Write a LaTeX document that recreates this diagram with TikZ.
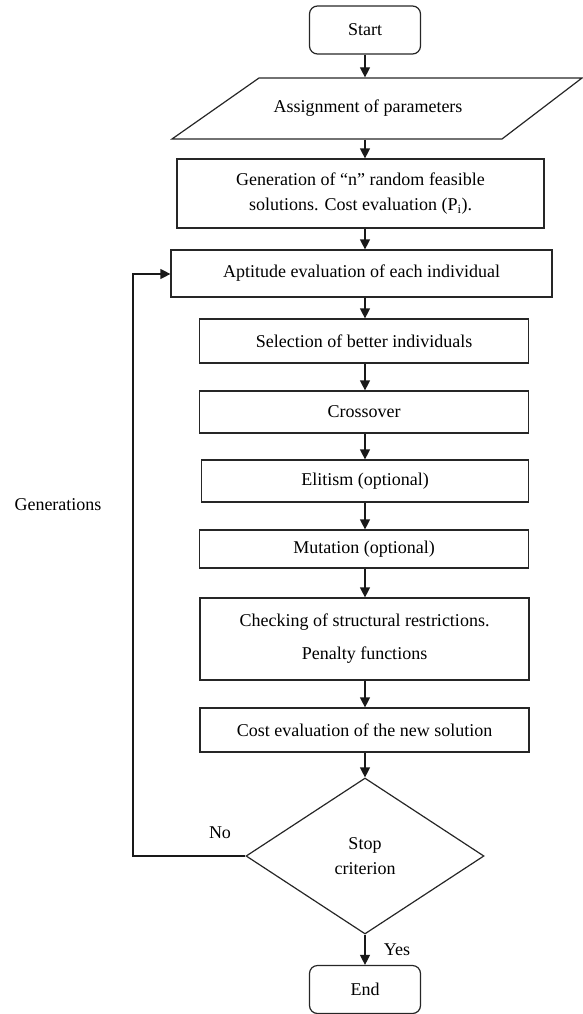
\documentclass[tikz,border=0pt]{standalone}
\usepackage{fontspec}
\setmainfont{Liberation Serif}
\usetikzlibrary{arrows.meta}
\usetikzlibrary{shapes.geometric}

\begin{document}
\begin{tikzpicture}[x=1pt, y=-1pt, font=\fontsize{18}{25}\selectfont,
      line width=1.2pt, inner sep=2pt, align=center,
      stepbox/.style={draw=black!85, rectangle},
      terminal/.style={draw=black!85, rectangle, rounded corners=8pt,
        minimum width=111pt, minimum height=48pt},
      flow/.style={draw=black!90, -{Triangle[length=10pt, width=10pt]}}]
    \useasboundingbox (0,0) rectangle (583,1014);
    % terminals
    \node[terminal] (start) at (365,30) {Start};
    \node[terminal] (finish) at (365,989.5) {End};
    % input
    \draw[draw=black!85] (259,78) -- (582,78) -- (502,139) -- (172,139) -- cycle;
    \node[minimum height=61pt] (assign) at (368,108.5) {Assignment of parameters};
    % process steps
    \node[stepbox, minimum width=367pt, minimum height=69pt] (gen) at (360.5,193.5)
      {Generation of “n” random feasible\\solutions. Cost evaluation (P\textsubscript{i}).};
    \node[stepbox, minimum width=381pt, minimum height=47pt] (apt) at (361.5,273.5)
      {Aptitude evaluation of each individual};
    \node[stepbox, minimum width=329pt, minimum height=44pt] (sel) at (364,341)
      {Selection of better individuals};
    \node[stepbox, minimum width=329pt, minimum height=42pt] (cross) at (364,412)
      {Crossover};
    \node[stepbox, minimum width=327pt, minimum height=42pt] (elit) at (365,481)
      {Elitism (optional)};
    \node[stepbox, minimum width=329pt, minimum height=38pt] (mut) at (364,549)
      {Mutation (optional)};
    \node[stepbox, minimum width=329pt, minimum height=82pt] (check) at (364.5,639)
      {Checking of structural restrictions.\\[8pt]Penalty functions};
    \node[stepbox, minimum width=329pt, minimum height=44pt] (cost) at (364.5,730)
      {Cost evaluation of the new solution};
    % decision
    \node[draw=black!85, diamond, minimum width=238pt, minimum height=156pt,
      inner sep=0pt] (stop) at (365,856) {Stop\\criterion};
    % connectors, all on the middle column
    \foreach \a/\b in {start/assign, assign/gen, gen/apt, apt/sel, sel/cross,
        cross/elit, elit/mut, mut/check, check/cost, cost/stop, stop/finish}{
      \draw[flow] (\a.south -| start) -- (\b.north -| start);
    }
    \coordinate (loopb) at (133,856);
    \coordinate (loopt) at (133,274);
    \draw[flow] (stop.west) -- (loopb) -- (loopt) -- (loopt -| apt.west);
    % labels
    \node (no) at (220,833) {No};
    \node (yes) at (397,950) {Yes};
    \node (gens) at (58,505) {Generations};
  \end{tikzpicture}
\end{document}
